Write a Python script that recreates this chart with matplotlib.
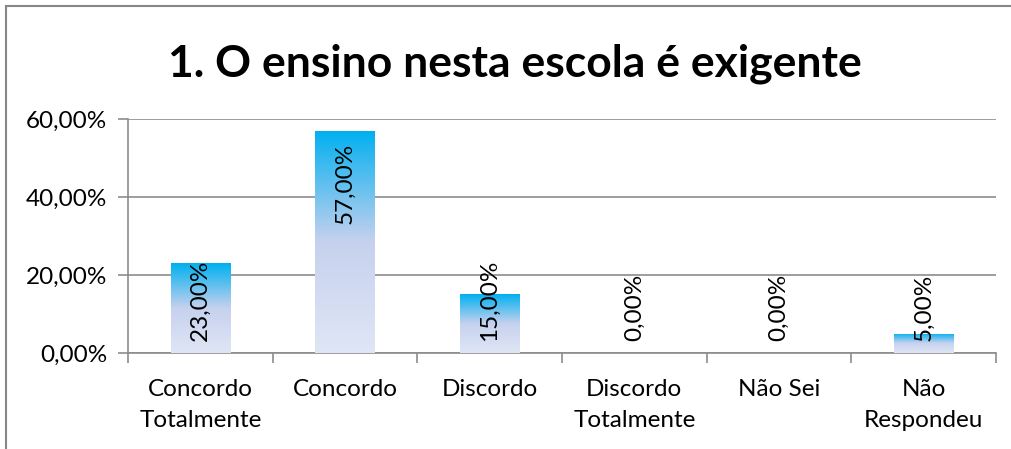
import matplotlib.pyplot as plt
import numpy as np
from matplotlib.colors import LinearSegmentedColormap
from matplotlib.patches import Rectangle

plt.rcParams['font.family'] = ['Lato', 'DejaVu Sans']

categories = ['Concordo\nTotalmente', 'Concordo', 'Discordo',
              'Discordo\nTotalmente', 'Não Sei', 'Não\nRespondeu']
values = [23.0, 57.0, 15.0, 0.0, 0.0, 5.0]
yticks = [0, 20, 40, 60]
title = '1. O ensino nesta escola é exigente'

grid_col = '#8c8c8c'
fade = LinearSegmentedColormap.from_list(
    'fade', [(0.0, '#dfe6f5'), (0.5, '#c6d1ee'), (1.0, '#00b0f0')])

fig = plt.figure(figsize=(10.11, 4.49), dpi=100)
ax = fig.add_axes([0.1266, 0.2138, 0.8586, 0.5212])

x = np.arange(len(categories))
bars = ax.bar(x, values, width=0.41, color='none', zorder=3)

# vertical gradient, clipped to each bar
grad = np.linspace(0, 1, 256).reshape(-1, 1)
for b in bars:
    h = b.get_height()
    if h <= 0:
        continue
    x0 = b.get_x()
    im = ax.imshow(grad, cmap=fade, origin='lower', aspect='auto',
                   extent=(x0, x0 + b.get_width(), 0, h), zorder=3)
    im.set_clip_path(b)

# value labels, rotated
for xi, v in zip(x, values):
    y = max(3.0, v - 24.0)
    ax.text(xi, y, f'{v:.2f}%'.replace('.', ','), rotation=90,
            ha='center', va='bottom', fontsize=17.5, color='black', zorder=4)

ax.set_xlim(-0.5, len(categories) - 0.5)
ax.set_ylim(0, 60)
ax.set_yticks(yticks)
ax.set_yticklabels([f'{t:.2f}%'.replace('.', ',') for t in yticks], fontsize=17.5)
ax.set_xticks(x)
ax.set_xticklabels(categories, fontsize=17.5, linespacing=1.55)
ax.set_xticks(np.arange(len(categories) + 1) - 0.5, minor=True)

ax.grid(axis='y', color=grid_col, linewidth=1.2, zorder=0)
ax.set_axisbelow(True)
for side in ['top', 'right']:
    ax.spines[side].set_visible(False)
for side in ['left', 'bottom']:
    ax.spines[side].set_color(grid_col)
    ax.spines[side].set_linewidth(1.2)
ax.tick_params(axis='x', which='major', length=0, pad=19)
ax.tick_params(axis='x', which='minor', length=7, color=grid_col, width=1.2)
ax.tick_params(axis='y', length=7, color=grid_col, width=1.2, pad=8)

fig.text(0.509, 0.858, title, ha='center', va='center',
         fontsize=32, fontweight='bold')

# outer chart frame
fig.add_artist(Rectangle((6 / 1011, -0.05), 1.1, 0.05 + 443 / 449,
                         transform=fig.transFigure, fill=False,
                         edgecolor='#868686', linewidth=1.5))

fig.savefig('out.png', dpi=100)
